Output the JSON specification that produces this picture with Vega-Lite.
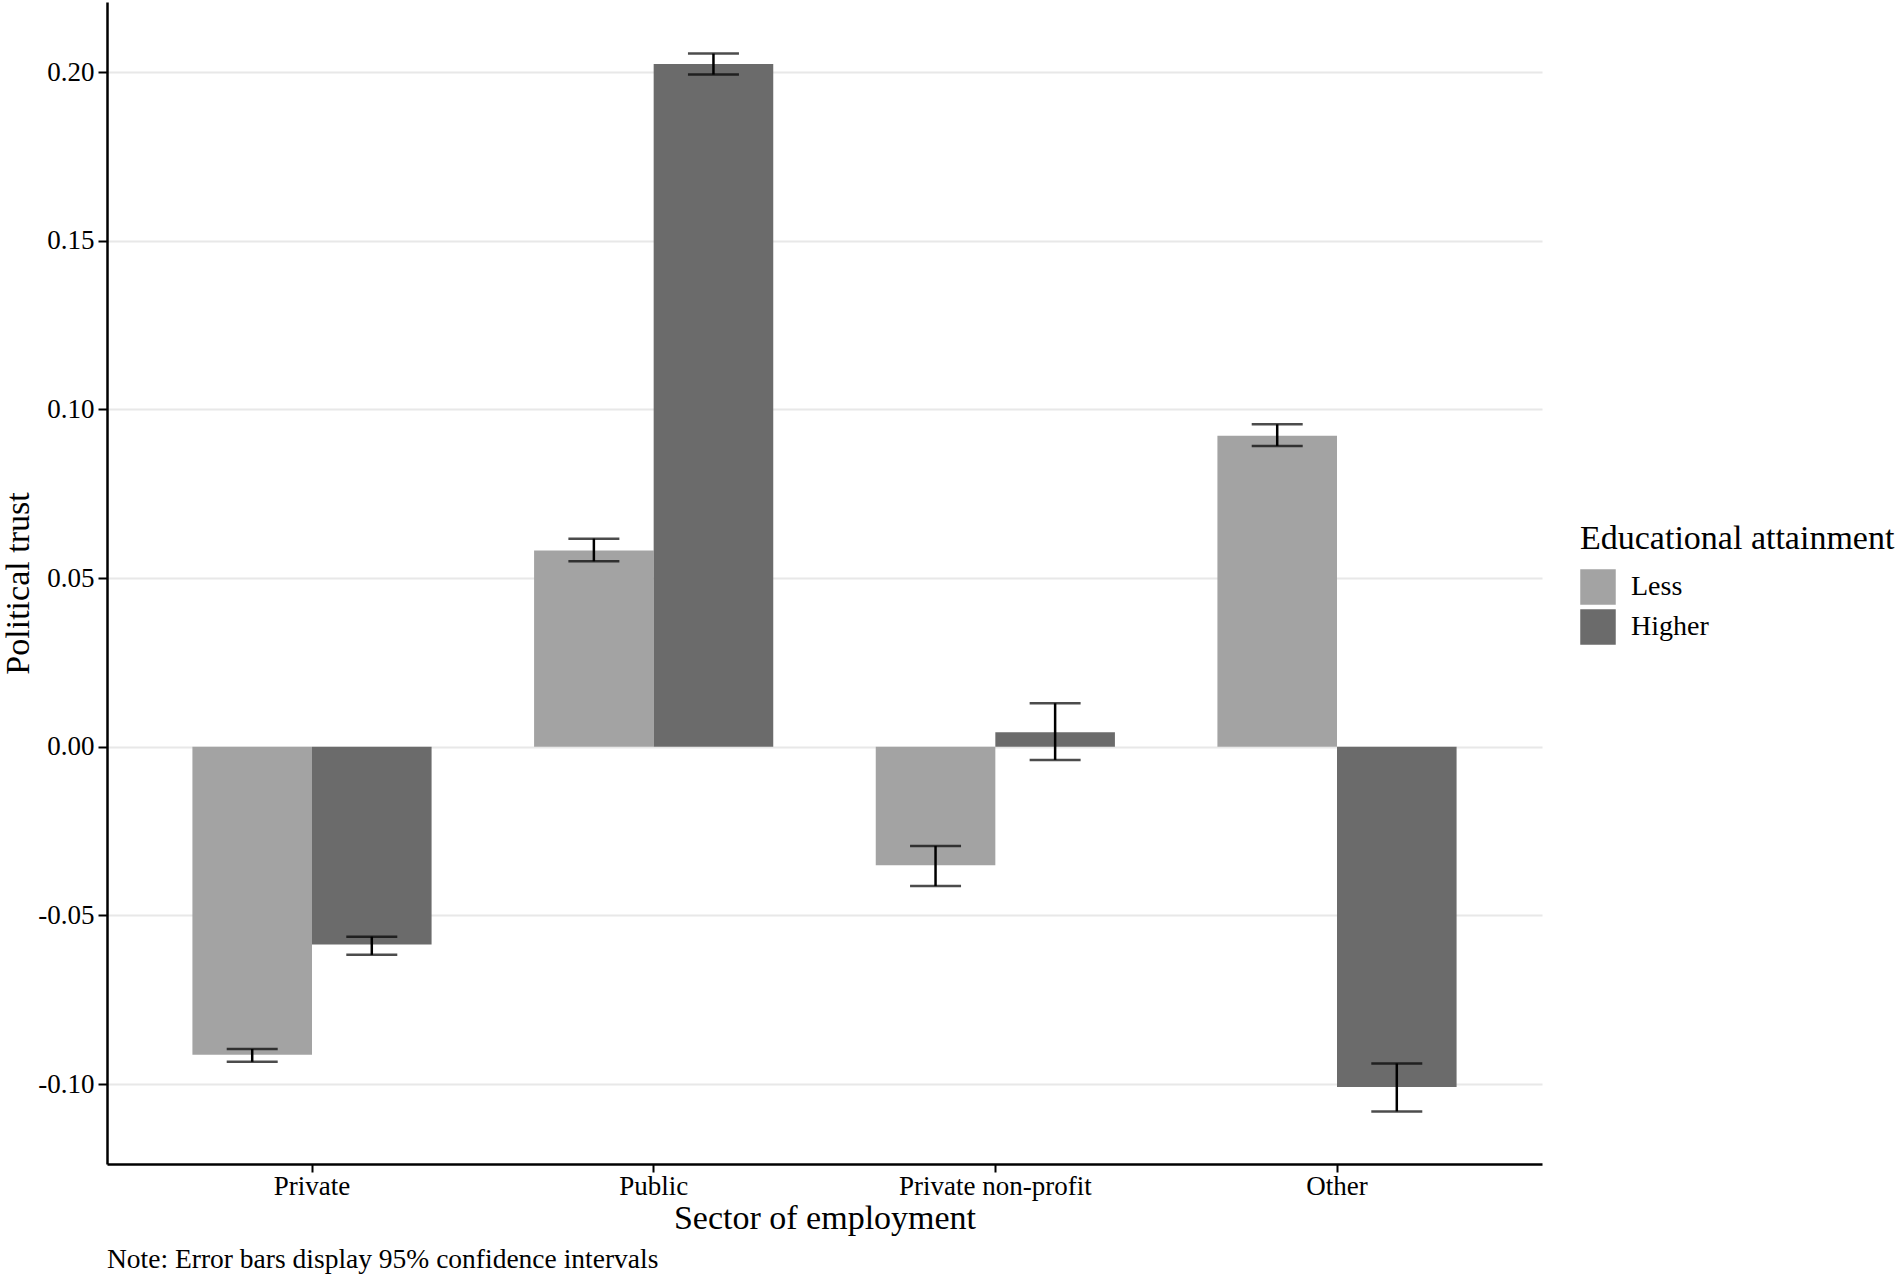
{
  "$schema": "https://vega.github.io/schema/vega-lite/v6.json",
  "autosize": {"type": "none"},
  "padding": {"left": 107, "top": 2, "right": 359, "bottom": 114},
  "width": 1435,
  "height": 1162,
  "background": "white",
  "title": {
    "text": "Note: Error bars display 95% confidence intervals",
    "orient": "bottom",
    "anchor": "start",
    "frame": "group",
    "font": "Liberation Serif",
    "fontSize": 27.5,
    "fontWeight": "normal",
    "color": "black",
    "offset": 11
  },
  "data": {
    "values": [
      {"sector": "Private", "edu": "Less", "value": -0.0913, "lo": -0.0934, "hi": -0.0896},
      {"sector": "Private", "edu": "Higher", "value": -0.0586, "lo": -0.0617, "hi": -0.0563},
      {"sector": "Public", "edu": "Less", "value": 0.0582, "lo": 0.055, "hi": 0.0617},
      {"sector": "Public", "edu": "Higher", "value": 0.2024, "lo": 0.1993, "hi": 0.2055},
      {"sector": "Private non-profit", "edu": "Less", "value": -0.0351, "lo": -0.0413, "hi": -0.0294},
      {"sector": "Private non-profit", "edu": "Higher", "value": 0.0043, "lo": -0.0039, "hi": 0.0129},
      {"sector": "Other", "edu": "Less", "value": 0.0922, "lo": 0.0892, "hi": 0.0956},
      {"sector": "Other", "edu": "Higher", "value": -0.1009, "lo": -0.1081, "hi": -0.0939}
    ]
  },
  "encoding": {
    "x": {
      "field": "sector",
      "type": "nominal",
      "sort": ["Private", "Public", "Private non-profit", "Other"],
      "scale": {"paddingInner": 0.3, "paddingOuter": 0.25},
      "title": "Sector of employment",
      "axis": {
        "labelAngle": 0,
        "labelLimit": 0,
        "labelFont": "Liberation Serif",
        "labelFontSize": 27,
        "labelColor": "black",
        "labelPadding": 1,
        "tickSize": 8,
        "tickWidth": 2,
        "tickColor": "black",
        "domainColor": "black",
        "domainWidth": 2.5,
        "titleFont": "Liberation Serif",
        "titleFontSize": 34,
        "titleFontWeight": "normal",
        "titleColor": "black",
        "titlePadding": 2,
        "grid": false
      }
    },
    "xOffset": {
      "field": "edu",
      "sort": ["Less", "Higher"],
      "scale": {"paddingInner": 0, "paddingOuter": 0}
    }
  },
  "layer": [
    {
      "mark": {"type": "bar"},
      "encoding": {
        "y": {
          "field": "value",
          "type": "quantitative",
          "scale": {"domain": [-0.1237, 0.2208], "nice": false, "zero": false},
          "title": "Political trust",
          "axis": {
            "values": [-0.1, -0.05, 0, 0.05, 0.1, 0.15, 0.2],
            "labelExpr": "datum.value < 0 ? '-' + format(-datum.value, '.2f') : format(datum.value, '.2f')",
            "labelFont": "Liberation Serif",
            "labelFontSize": 27,
            "labelColor": "black",
            "labelPadding": 4,
            "tickSize": 9,
            "tickWidth": 2,
            "tickColor": "black",
            "domainColor": "black",
            "domainWidth": 2.5,
            "grid": true,
            "gridColor": "#E8E8E8",
            "gridWidth": 2,
            "titleFont": "Liberation Serif",
            "titleFontSize": 34,
            "titleFontWeight": "normal",
            "titleColor": "black",
            "titlePadding": 2
          }
        },
        "color": {
          "field": "edu",
          "type": "nominal",
          "sort": ["Less", "Higher"],
          "scale": {"domain": ["Less", "Higher"], "range": ["#A3A3A3", "#6B6B6B"]},
          "title": "Educational attainment",
          "legend": {
            "orient": "none",
            "legendX": 1473,
            "legendY": 520,
            "titleLimit": 0,
            "titleFont": "Liberation Serif",
            "titleFontSize": 34,
            "titleFontWeight": "normal",
            "titleColor": "black",
            "titlePadding": 13,
            "labelFont": "Liberation Serif",
            "labelFontSize": 28,
            "labelColor": "black",
            "labelOffset": 15,
            "symbolType": "square",
            "symbolSize": 1260,
            "symbolStrokeWidth": 0,
            "rowPadding": 4
          }
        }
      }
    },
    {
      "mark": {"type": "rule", "color": "black", "strokeWidth": 2.5},
      "encoding": {
        "y": {"field": "lo", "type": "quantitative"},
        "y2": {"field": "hi"}
      }
    },
    {
      "mark": {"type": "tick", "color": "black", "thickness": 2.5, "size": 51},
      "encoding": {"y": {"field": "lo", "type": "quantitative"}}
    },
    {
      "mark": {"type": "tick", "color": "black", "thickness": 2.5, "size": 51},
      "encoding": {"y": {"field": "hi", "type": "quantitative"}}
    }
  ],
  "config": {
    "view": {"stroke": null}
  }
}
